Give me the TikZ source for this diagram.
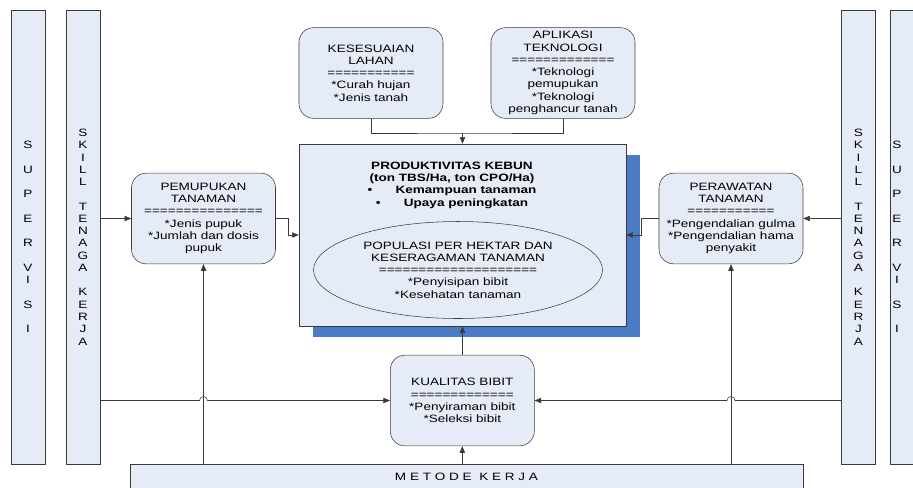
\documentclass[tikz,border=0pt]{standalone}
\usepackage{fontspec}
\setmainfont{Liberation Sans}[FakeStretch=1.27]
\usetikzlibrary{arrows.meta,shadows,shapes.geometric}
\definecolor{boxfill}{HTML}{E6ECF7}
\definecolor{shadowblue}{HTML}{4A7BC4}
\definecolor{linegray}{HTML}{3A3A3A}

\begin{document}
\begin{tikzpicture}[x=0.75pt,y=-0.75pt,
  every node/.style={font=\fontsize{8}{9.2}\selectfont,align=center,inner sep=0pt},
  bar/.style={draw=linegray,fill=boxfill,minimum width=25.5pt,minimum height=340.5pt},
  rbox/.style={draw=linegray,fill=boxfill,rounded corners=11pt,minimum width=108pt,minimum height=68pt},
  arr/.style={draw=linegray,-{Triangle[length=5pt,width=4pt]}},
  wire/.style={draw=linegray}]
\useasboundingbox (0,0) rectangle (913,487);

% side bars
\node[bar] (supL) at (28,237) {};
\node[bar] (skillL) at (83,237) {};
\node[bar] (skillR) at (858.5,237) {};
\node[bar] (supR) at (907,237) {};
\node (supLtxt) at (supL) {S\\~\\U\\~\\P\\~\\E\\~\\R\\~\\V\\I\\~\\S\\~\\I};
\node (supRtxt) at (897,237) {S\\~\\U\\~\\P\\~\\E\\~\\R\\~\\V\\I\\~\\S\\~\\I};
\node (skillLtxt) at (skillL) {S\\K\\I\\L\\L\\~\\T\\E\\N\\A\\G\\A\\~\\K\\E\\R\\J\\A};
\node (skillRtxt) at (skillR) {S\\K\\I\\L\\L\\~\\T\\E\\N\\A\\G\\A\\~\\K\\E\\R\\J\\A};

% top boxes
\node[rbox] (kes) at (371,73) {KESESUAIAN\\LAHAN\\===========\\*Curah hujan\\*Jenis tanah};
\node[rbox] (apl) at (563,73) {APLIKASI\\TEKNOLOGI\\=============\\*Teknologi\\pemupukan\\*Teknologi\\penghancur tanah};

% centre
\node[draw=linegray,fill=boxfill,minimum width=245.25pt,minimum height=136.5pt,
  drop shadow={shadow xshift=10.5pt,shadow yshift=-8.25pt,fill=shadowblue,opacity=1}] (prod) at (462.5,235) {};
\node[font=\fontsize{8}{9.2}\selectfont\bfseries] (title) at (452,185)
  {PRODUKTIVITAS KEBUN\\(ton TBS/Ha, ton CPO/Ha)\\
   \makebox[21pt][l]{\textbullet}Kemampuan tanaman\\
   \makebox[21pt][l]{\textbullet}Upaya peningkatan};
\node[ellipse,draw=linegray,fill=boxfill,minimum width=216.75pt,minimum height=72.75pt] (popu) at (458,270)
  {POPULASI PER HEKTAR DAN\\KESERAGAMAN TANAMAN\\====================\\*Penyisipan bibit\\*Kesehatan tanaman};

% side boxes
\node[rbox] (pem) at (203.5,218.5) {PEMUPUKAN\\TANAMAN\\===============\\*Jenis pupuk\\*Jumlah dan dosis\\pupuk};
\node[rbox] (per) at (731,218.5) {PERAWATAN\\TANAMAN\\===========\\*Pengendalian gulma\\*Pengendalian hama\\penyakit};
\node[rbox] (kua) at (462.3,400.5) {KUALITAS BIBIT\\=============\\*Penyiraman bibit\\*Seleksi bibit};

% bottom
\node[draw=linegray,fill=boxfill,minimum width=504.75pt,minimum height=19.5pt] (met) at (466.5,477) {M E T O D E \ K E R J A};

% connectors
\coordinate (top) at (462.5,133);
\draw[wire] (kes.south) |- (top) -| (apl.south);
\draw[arr] (top) -- (prod.north);
\draw[arr] (skillL.east |- pem.west) -- (pem.west);
\draw[arr] (pem.east) -- ++(12,0) |- (prod.west);
\draw[arr] (skillR.west |- per.east) -- (per.east);
\draw[arr] (per.west) -- ++(-17,0) |- (prod.east);
\draw[arr] (prod.south |- kua.north) -- (prod.south);
\draw[arr] (met.north -| pem.south) -- (pem.south);
\draw[arr] (met.north -| kua.south) -- (kua.south);
\draw[arr] (met.north -| per.south) -- (per.south);
\coordinate (hopL) at (pem.south |- kua.west);
\coordinate (hopR) at (per.south |- kua.east);
\draw[arr] (skillL.east |- kua.west) -- ([xshift=-3pt]hopL) arc[start angle=180,end angle=0,radius=3pt] -- (kua.west);
\draw[arr] (skillR.west |- kua.east) -- ([xshift=3pt]hopR) arc[start angle=0,end angle=180,radius=3pt] -- (kua.east);
\end{tikzpicture}
\end{document}
